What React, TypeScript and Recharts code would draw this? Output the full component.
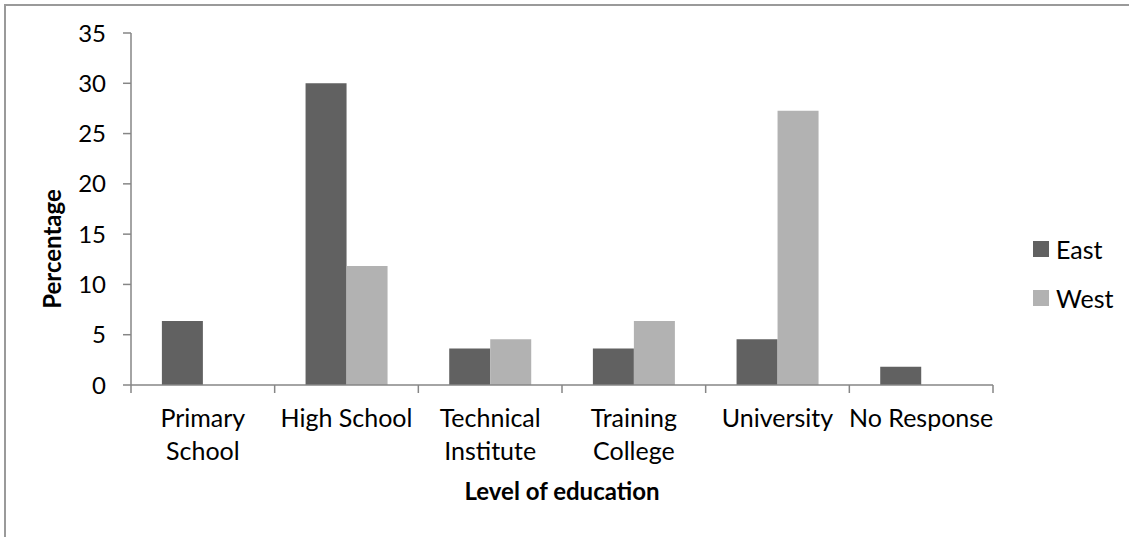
import React from 'react';
import { BarChart, Bar, XAxis, YAxis, Legend, Label } from 'recharts';

// Share of respondents (%) by level of education, East vs West
const categories = [
  'Primary School',
  'High School',
  'Technical Institute',
  'Training College',
  'University',
  'No Response',
];
const categoryLines = [
  ['Primary', 'School'],
  ['High School'],
  ['Technical', 'Institute'],
  ['Training', 'College'],
  ['University'],
  ['No Response'],
];
const eastValues = [6.36, 30.0, 3.64, 3.64, 4.55, 1.82];
const westValues = [0, 11.82, 4.55, 6.36, 27.27, 0];
const seriesNames = ['East', 'West'];
const yTicks = [0, 5, 10, 15, 20, 25, 30, 35];

const data = categories.map((name, i) => ({
  name,
  East: eastValues[i],
  West: westValues[i],
}));

const W = 1129;
const H = 537;
const MARGIN = { top: 33, right: 136, bottom: 0, left: 0 };
const Y_AXIS_W = 131;
const X_AXIS_H = 152;
const FONT = "Lato, 'Open Sans', sans-serif";
const AXIS_COLOR = '#868686';
const COLORS: Record<string, string> = { East: '#616161', West: '#b2b2b2' };
const BAND_HALF = (W - MARGIN.right - MARGIN.left - Y_AXIS_W) / categories.length / 2;

function XTick(props: any) {
  const { x, y, payload, index, visibleTicksCount } = props;
  const half = typeof payload?.offset === 'number' && payload.offset > 0 ? payload.offset : BAND_HALF;
  const lines = categoryLines[index] ?? [String(payload?.value ?? '')];
  const isLast = index === (visibleTicksCount ?? categories.length) - 1;
  return (
    <g>
      <line x1={x - half} x2={x - half} y1={y} y2={y + 8} stroke={AXIS_COLOR} strokeWidth={1.5} />
      {isLast && (
        <line x1={x + half} x2={x + half} y1={y} y2={y + 8} stroke={AXIS_COLOR} strokeWidth={1.5} />
      )}
      <text x={x} y={y + 42} textAnchor="middle" fontSize={25} fontFamily={FONT} fill="#000">
        {lines.map((line, i) => (
          <tspan key={i} x={x} dy={i === 0 ? 0 : 33}>
            {line}
          </tspan>
        ))}
      </text>
    </g>
  );
}

function XTitle(props: any) {
  const vb = props.viewBox || {};
  return (
    <text
      x={vb.x + vb.width / 2}
      y={vb.y + 115}
      textAnchor="middle"
      fontSize={24}
      fontWeight="bold"
      fontFamily={FONT}
      fill="#000"
    >
      Level of education
    </text>
  );
}

function YTitle(props: any) {
  const vb = props.viewBox || {};
  const cx = vb.x + 51;
  const cy = vb.y + vb.height / 2 + 40;
  return (
    <text
      x={cx}
      y={cy}
      transform={`rotate(-90 ${cx} ${cy})`}
      textAnchor="middle"
      dominantBaseline="central"
      fontSize={24}
      fontWeight="bold"
      fontFamily={FONT}
      fill="#000"
    >
      Percentage
    </text>
  );
}

function LegendBox() {
  return (
    <div style={{ fontFamily: FONT, fontSize: 25, color: '#000' }}>
      {seriesNames.map((s) => (
        <div key={s} style={{ display: 'flex', alignItems: 'center', height: 49 }}>
          <span
            style={{
              display: 'inline-block',
              width: 16,
              height: 16,
              background: COLORS[s],
              marginRight: 7,
            }}
          />
          <span>{s}</span>
        </div>
      ))}
    </div>
  );
}

export default function App() {
  return (
    <div
      style={{
        position: 'absolute',
        left: 0,
        top: 0,
        width: W,
        height: H,
        overflow: 'hidden',
        background: '#fff',
      }}
    >
      <div
        style={{
          position: 'absolute',
          left: 4,
          top: 4,
          width: W + 20,
          height: H + 20,
          border: '2px solid #9a9a9a',
        }}
      />
      <div style={{ position: 'absolute', left: 0, top: 0 }}>
        <BarChart
          width={W}
          height={H}
          data={data}
          margin={MARGIN}
          barCategoryGap="21.5%"
          barGap={0}
        >
          <XAxis
            dataKey="name"
            height={X_AXIS_H}
            interval={0}
            tickLine={false}
            tickSize={0}
            tickMargin={0}
            axisLine={{ stroke: AXIS_COLOR, strokeWidth: 1.5 }}
            tick={<XTick />}
          >
            <Label content={<XTitle />} />
          </XAxis>
          <YAxis
            width={Y_AXIS_W}
            domain={[0, 35]}
            ticks={yTicks}
            interval={0}
            tickSize={8}
            tickMargin={17}
            axisLine={{ stroke: AXIS_COLOR, strokeWidth: 1.5 }}
            tickLine={{ stroke: AXIS_COLOR, strokeWidth: 1.5 }}
            tick={{ fill: '#000', fontSize: 24, fontFamily: FONT }}
          >
            <Label content={<YTitle />} />
          </YAxis>
          <Legend
            layout="vertical"
            align="center"
            verticalAlign="middle"
            content={<LegendBox />}
            wrapperStyle={{ left: 1033, top: 224, width: 96, height: 98 }}
          />
          {seriesNames.map((s) => (
            <Bar key={s} dataKey={s} fill={COLORS[s]} isAnimationActive={false} />
          ))}
        </BarChart>
      </div>
    </div>
  );
}
